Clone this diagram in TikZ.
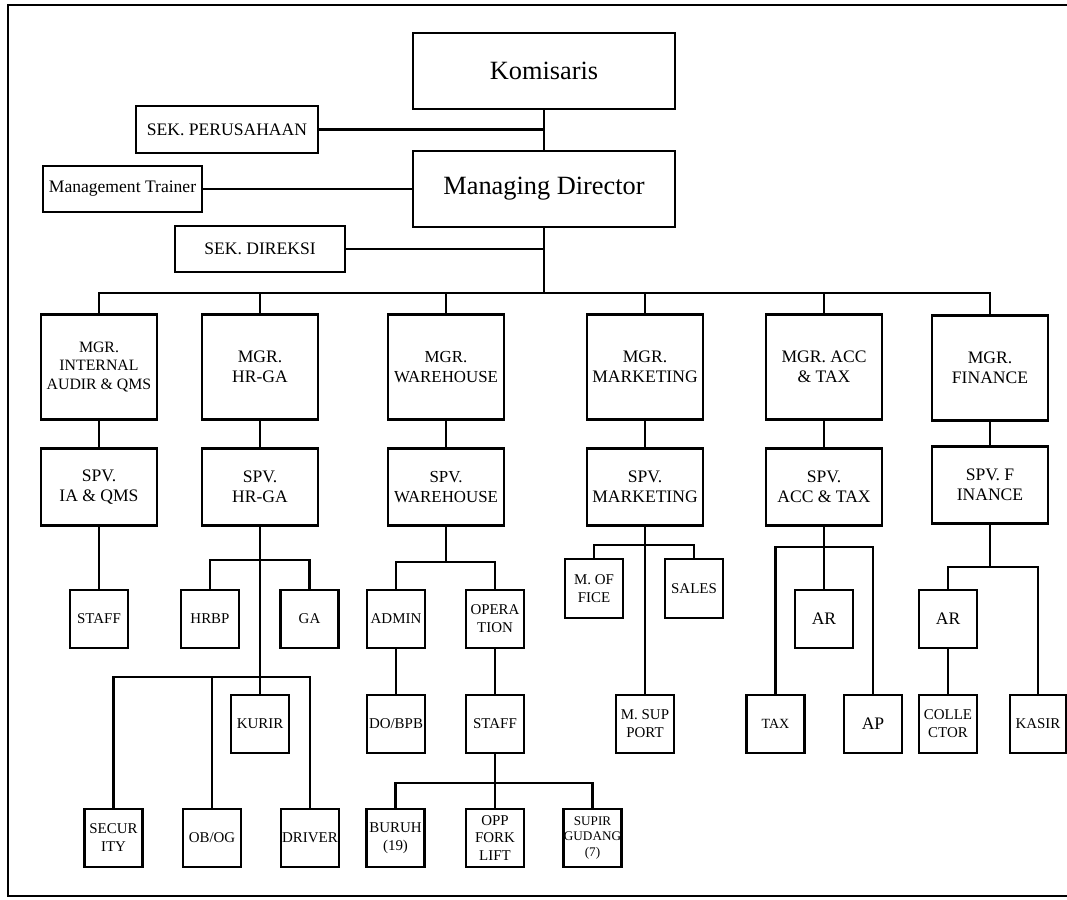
\documentclass[tikz,border=0pt]{standalone}
\usepackage{fontspec}
\setmainfont{Liberation Serif}
\begin{document}
\begin{tikzpicture}[x=0.02cm,y=-0.02cm,
  box/.style={draw, line width=1.45pt, inner sep=0pt, align=center},
  sz/.style 2 args={minimum width=#1*0.02cm, minimum height=#2*0.02cm},
  big/.style={box, font=\fontsize{15}{17}\selectfont, sz={262}{76}},
  side/.style={box, font=\fontsize{10}{12}\selectfont},
  mgr/.style={box, font=\fontsize{10}{11.5}\selectfont, sz={116}{105}},
  spv/.style={box, font=\fontsize{10}{11.5}\selectfont, sz={116}{77}},
  small/.style={box, font=\fontsize{8.5}{10.2}\selectfont, sz={58}{58}},
  conn/.style={line width=1.4pt}
]
\useasboundingbox (0,0) rectangle (1067,899);
% frame
\draw[line width=1.5pt] (1067,5) -- (8,5) -- (8,896) -- (1067,896);

% top level
\node[big] (kom) at (544,71) {Komisaris};
\node[big] (md) at (544,189) {Managing Director};
\node[side, sz={182}{47}] (sekper) at (227,129.5) {SEK. PERUSAHAAN};
\node[side, sz={159}{46}] (mt) at (122.5,189) {Management Trainer};
\node[side, sz={170}{46}] (sekdir) at (260,249) {SEK. DIREKSI};

% managers
\node[mgr, font=\fontsize{9}{10.5}\selectfont] (mgr1) at (99,367) {MGR.\\INTERNAL\\AUDIR \& QMS};
\node[mgr] (mgr2) at (260,367) {MGR.\\HR-GA};
\node[mgr, font=\fontsize{9.6}{11.5}\selectfont] (mgr3) at (446,367) {MGR.\\WAREHOUSE};
\node[mgr] (mgr4) at (645,367) {MGR.\\MARKETING};
\node[mgr] (mgr5) at (824,367) {MGR. ACC\\\& TAX};
\node[mgr] (mgr6) at (990,368) {MGR.\\FINANCE};

% supervisors
\node[spv] (spv1) at (99,487) {SPV.\\IA \& QMS};
\node[spv] (spv2) at (260,487) {SPV.\\HR-GA};
\node[spv, font=\fontsize{9.6}{11.5}\selectfont] (spv3) at (446,487) {SPV.\\WAREHOUSE};
\node[spv] (spv4) at (645,487) {SPV.\\MARKETING};
\node[spv] (spv5) at (824,487) {SPV.\\ACC \& TAX};
\node[spv] (spv6) at (990,485) {SPV. F\\INANCE};

% column 1
\node[small] (staff1) at (99,619) {STAFF};

% column 2
\node[small] (hrbp) at (210,619) {HRBP};
\node[small] (ga) at (309.5,619) {GA};
\node[small] (kurir) at (260,724) {KURIR};
\node[small] (security) at (113.5,838) {SECUR\\ITY};
\node[small] (obog) at (212,838) {OB/OG};
\node[small] (driver) at (310,838) {DRIVER};

% column 3
\node[small] (admin) at (396,619) {ADMIN};
\node[small] (oper) at (495,619) {OPERA\\TION};
\node[small] (dobpb) at (396,724) {DO/BPB};
\node[small] (staff3) at (495,724) {STAFF};
\node[small] (buruh) at (395.5,838) {BURUH\\(19)};
\node[small] (opp) at (495,838) {OPP\\FORK\\LIFT};
\node[small, font=\fontsize{7.5}{8.8}\selectfont] (supir) at (592.5,838) {SUPIR\\GUDANG\\(7)};

% column 4
\node[small, sz={58}{59}] (mofice) at (594,588.5) {M. OF\\FICE};
\node[small, sz={58}{59}] (sales) at (694,588.5) {SALES};
\node[small] (msup) at (645,724) {M. SUP\\PORT};

% column 5
\node[small, font=\fontsize{10}{12}\selectfont] (ar1) at (824,619) {AR};
\node[small, font=\fontsize{8}{10}\selectfont] (tax) at (775.5,724) {TAX};
\node[small, font=\fontsize{10}{12}\selectfont] (ap) at (873,724) {AP};

% column 6
\node[small, font=\fontsize{10}{12}\selectfont] (ar2) at (948,619) {AR};
\node[small] (collector) at (948,724) {COLLE\\CTOR};
\node[small, sz={56}{58}] (kasir) at (1038,724) {KASIR};

% ---- connectors ----
\coordinate (bus) at (544,293);
\draw[conn] (kom.south) -- (md.north);
\draw[conn] (sekper.east) -- (sekper.east -| kom.south);
\draw[conn] (mt.east) -- (md.west);
\draw[conn] (md.south) -- (bus);
\draw[conn] (sekdir.east) -- (sekdir.east -| md.south);
\draw[conn] (mgr1.north) |- (bus) -| (mgr6.north);
\foreach \m in {mgr2,mgr3,mgr4,mgr5}
  \draw[conn] (\m.north) -- (\m.north |- bus);
\foreach \i in {1,...,6}
  \draw[conn] (mgr\i.south) -- (spv\i.north);

% column 1
\draw[conn] (spv1.south) -- (staff1.north);

% column 2
\coordinate (b2) at (260,560);
\coordinate (c2) at (260,677);
\draw[conn] (spv2.south) -- (kurir.north);
\draw[conn] (hrbp.north) |- (b2) -| (ga.north);
\draw[conn] (security.north) |- (c2) -| (driver.north);
\draw[conn] (obog.north) -- (obog.north |- c2);

% column 3
\coordinate (b3) at (446,562);
\coordinate (c3) at (495,783);
\draw[conn] (spv3.south) -- (b3);
\draw[conn] (admin.north) |- (b3) -| (oper.north);
\draw[conn] (admin.south) -- (dobpb.north);
\draw[conn] (oper.south) -- (staff3.north);
\draw[conn] (staff3.south) -- (c3);
\draw[conn] (buruh.north) |- (c3) -| (supir.north);
\draw[conn] (opp.north) -- (c3);

% column 4
\coordinate (b4) at (645,545);
\draw[conn] (spv4.south) -- (msup.north);
\draw[conn] (mofice.north) |- (b4) -| (sales.north);

% column 5
\coordinate (b5) at (824,547);
\draw[conn] (spv5.south) -- (ar1.north);
\draw[conn] (tax.north) |- (b5) -| (ap.north);

% column 6
\coordinate (b6) at (990,567);
\draw[conn] (spv6.south) -- (b6);
\draw[conn] (ar2.north) |- (b6) -| (kasir.north);
\draw[conn] (ar2.south) -- (collector.north);
\end{tikzpicture}
\end{document}
